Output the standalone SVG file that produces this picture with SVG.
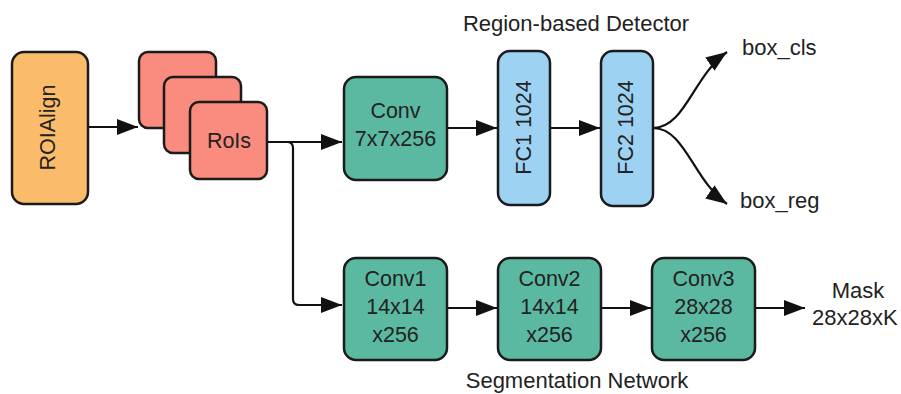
<svg xmlns="http://www.w3.org/2000/svg" width="901" height="394" viewBox="0 0 901 394">
<defs>
<style>
.box{stroke:#1b1b1b;stroke-width:2.5}
.org{fill:#FABC6A}
.sal{fill:#F98B7F}
.teal{fill:#5CB9A1}
.blue{fill:#9ED2F3}
text{font-family:"Liberation Sans",Arial,sans-serif;font-size:21.5px;fill:#222}
.lbl{font-size:22px}
.c{text-anchor:middle}
.ln{fill:none;stroke:#111;stroke-width:2.2}
</style>
<marker id="ahb" viewBox="0 0 10 10" refX="10" refY="5" markerWidth="21" markerHeight="16" markerUnits="userSpaceOnUse" orient="auto" preserveAspectRatio="none">
<path d="M0,0 L10,5 L0,10 z" fill="#111"/>
</marker>
</defs>
<rect width="901" height="394" fill="#fff"/>

<g id="connectors">
<path class="ln" d="M88,127 H138" marker-end="url(#ahb)"/>
<path class="ln" d="M267,142 H342" marker-end="url(#ahb)"/>
<path class="ln" d="M287,142 Q293,142 293,148 V299 Q293,305 299,305 H342" marker-end="url(#ahb)"/>
<path class="ln" d="M447,128 H497" marker-end="url(#ahb)"/>
<path class="ln" d="M550,128 H600" marker-end="url(#ahb)"/>
<path class="ln" d="M653,128 C685,128 693,76 727,52" marker-end="url(#ahb)"/>
<path class="ln" d="M653,128 C685,128 693,180 727,204" marker-end="url(#ahb)"/>
<path class="ln" d="M447,308 H497" marker-end="url(#ahb)"/>
<path class="ln" d="M601,308 H651" marker-end="url(#ahb)"/>
<path class="ln" d="M755,308 H805" marker-end="url(#ahb)"/>
</g>

<g id="roialign">
<rect class="box org" x="12" y="52" width="76" height="152" rx="12"/>
<text class="c" transform="translate(55,127.5) rotate(-90)">ROIAlign</text>
</g>

<g id="rois">
<rect class="box sal" x="139" y="52" width="77" height="76" rx="9"/>
<rect class="box sal" x="164" y="77" width="77" height="76" rx="9"/>
<rect class="box sal" x="190" y="102" width="77" height="77" rx="9"/>
<text class="c" x="229" y="148">RoIs</text>
</g>

<g id="conv">
<rect class="box teal" x="344" y="77" width="103" height="103" rx="12"/>
<text class="c" x="395.5" y="118">Conv</text>
<text class="c" x="395.5" y="146">7x7x256</text>
</g>

<g id="fc1">
<rect class="box blue" x="498" y="51" width="52" height="154" rx="12"/>
<text class="c" transform="translate(531,127.5) rotate(-90)">FC1 1024</text>
</g>

<g id="fc2">
<rect class="box blue" x="601" y="51" width="52" height="155" rx="12"/>
<text class="c" transform="translate(633,127.5) rotate(-90)">FC2 1024</text>
</g>

<g id="detector-label">
<text class="c lbl" x="576" y="31">Region-based Detector</text>
</g>
<g id="box_cls"><text class="lbl" x="742" y="55">box_cls</text></g>
<g id="box_reg"><text class="lbl" x="740" y="208">box_reg</text></g>

<g id="conv1">
<rect class="box teal" x="344" y="258" width="103" height="102" rx="12"/>
<text class="c" x="395.5" y="286">Conv1</text>
<text class="c" x="395.5" y="314">14x14</text>
<text class="c" x="395.5" y="342">x256</text>
</g>
<g id="conv2">
<rect class="box teal" x="498" y="258" width="103" height="102" rx="12"/>
<text class="c" x="549.5" y="286">Conv2</text>
<text class="c" x="549.5" y="314">14x14</text>
<text class="c" x="549.5" y="342">x256</text>
</g>
<g id="conv3">
<rect class="box teal" x="652" y="258" width="103" height="102" rx="12"/>
<text class="c" x="703.5" y="286">Conv3</text>
<text class="c" x="703.5" y="314">28x28</text>
<text class="c" x="703.5" y="342">x256</text>
</g>
<g id="mask">
<text class="c lbl" x="858" y="298">Mask</text>
<text class="lbl" x="812" y="325">28x28xK</text>
</g>
<g id="seg-label">
<text class="c lbl" x="577" y="388">Segmentation Network</text>
</g>
</svg>
